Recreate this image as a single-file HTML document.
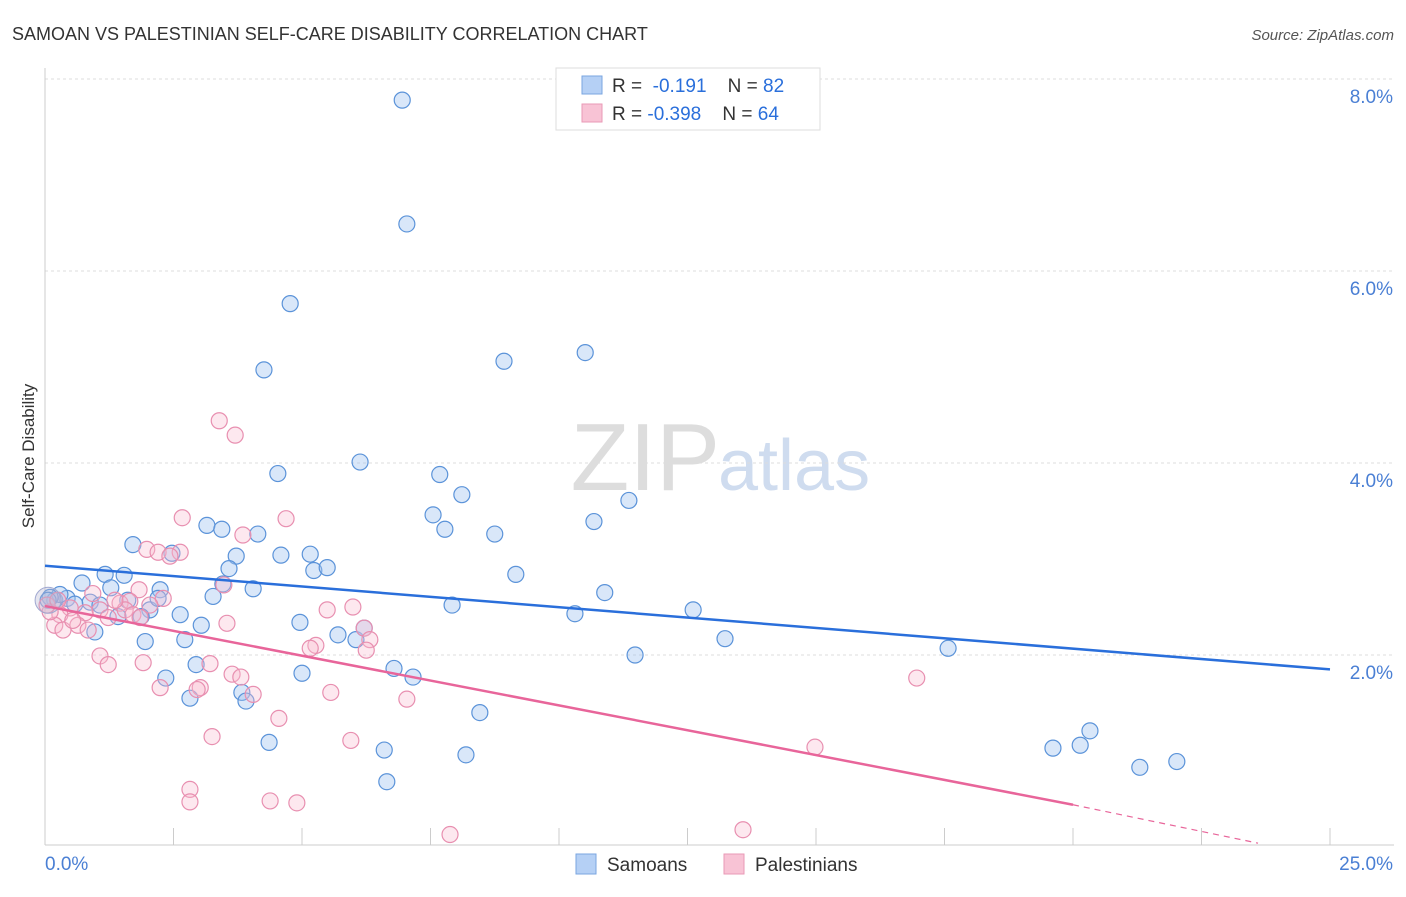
<!DOCTYPE html>
<html><head><meta charset="utf-8"><style>
body{margin:0;background:#fff;font-family:"Liberation Sans",sans-serif;}
svg text{font-family:"Liberation Sans",sans-serif;}
</style></head><body>
<svg id="chart" width="1406" height="892" xmlns="http://www.w3.org/2000/svg">
<text x="12" y="40" font-size="18" fill="#333">SAMOAN VS PALESTINIAN SELF-CARE DISABILITY CORRELATION CHART</text>
<text x="1394" y="40" font-size="15" fill="#555" font-style="italic" text-anchor="end">Source: ZipAtlas.com</text>
<text x="720" y="490" font-size="96" fill="#ddd" text-anchor="end" font-family="Liberation Serif">ZIP</text>
<text x="718" y="490" font-size="72" fill="#cfdcef">atlas</text>
<g id="grid"></g><g id="axes"></g><g id="pts"></g><g id="lines"></g>
<text transform="translate(34,456) rotate(-90)" font-size="17" fill="#333" text-anchor="middle">Self-Care Disability</text>
<g>
<rect x="556" y="68" width="264" height="62" fill="#fff" stroke="#ddd"/>
<rect x="582" y="76" width="20" height="18" fill="#b5d0f5" stroke="#7aa6e0"/>
<text x="612" y="92" font-size="19" fill="#333">R = <tspan fill="#2a6fdb">&#160;-0.191</tspan>&#160;&#160;&#160;&#160;N = <tspan fill="#2a6fdb">82</tspan></text>
<rect x="582" y="104" width="20" height="18" fill="#f8c3d5" stroke="#e99ab6"/>
<text x="612" y="120" font-size="19" fill="#333">R = <tspan fill="#2a6fdb">-0.398</tspan>&#160;&#160;&#160;&#160;N = <tspan fill="#2a6fdb">64</tspan></text>
</g>
<g>
<rect x="576" y="854" width="20" height="20" fill="#b5d0f5" stroke="#7aa6e0"/>
<text x="607" y="871" font-size="19" fill="#333">Samoans</text>
<rect x="724" y="854" width="20" height="20" fill="#f8c3d5" stroke="#e99ab6"/>
<text x="755" y="871" font-size="19" fill="#333">Palestinians</text>
</g>
</svg>
<script>
const yTicks=[2,4,6,8];
const yTickLabels=["2.0%","4.0%","6.0%","8.0%"];
const xTickLabels=["0.0%","25.0%"];
const blueX=[6.95,7.04,4.77,8.93,10.51,4.26,4.53,6.13,7.68,8.11,7.55,7.78,8.75,10.68,11.36,3.15,3.44,4.14,3.72,4.59,5.16,5.23,5.49,1.71,2.47,1.54,1.17,0.72,1.28,2.24,3.27,3.58,4.05,3.46,9.16,7.92,10.89,10.31,12.61,13.23,11.48,17.57,20.33,20.14,19.61,21.30,22.02,4.96,5.70,6.05,6.21,6.79,7.16,5.00,2.94,2.35,2.82,3.83,3.91,8.46,4.36,6.60,8.19,6.65,1.95,2.72,3.04,2.63,2.04,1.42,1.87,0.97,0.88,0.43,0.19,0.29,0.10,0.58,1.07,1.61,2.20,0.06];
const blueY=[7.78,6.49,5.66,5.06,5.15,4.97,3.89,4.01,3.88,3.67,3.46,3.31,3.26,3.39,3.61,3.35,3.31,3.26,3.03,3.04,3.05,2.88,2.91,3.15,3.06,2.83,2.84,2.75,2.70,2.68,2.61,2.90,2.69,2.74,2.84,2.52,2.65,2.43,2.47,2.17,2.00,2.07,1.21,1.06,1.03,0.83,0.89,2.34,2.21,2.16,2.28,1.86,1.77,1.81,1.90,1.76,1.55,1.61,1.52,1.40,1.09,1.01,0.96,0.68,2.14,2.16,2.31,2.42,2.47,2.40,2.40,2.24,2.55,2.59,2.57,2.63,2.60,2.53,2.52,2.57,2.59,2.57];
const pinkX=[3.39,3.70,2.67,4.69,3.85,1.98,2.20,2.63,2.43,3.48,1.83,2.30,0.93,1.46,1.65,2.04,1.56,1.07,0.78,0.49,0.29,0.19,0.35,0.64,1.23,1.71,1.85,3.54,5.49,5.99,6.21,6.32,5.27,5.16,6.25,1.07,1.23,1.91,3.21,3.64,3.81,3.02,2.96,2.24,4.05,5.56,7.04,4.55,3.25,5.95,14.98,16.96,2.82,2.82,4.38,4.90,7.88,13.58,0.10,0.04,0.25,0.54,0.84,1.36];
const pinkY=[4.44,4.29,3.43,3.42,3.25,3.10,3.07,3.07,3.03,2.73,2.68,2.59,2.64,2.54,2.56,2.52,2.47,2.47,2.44,2.49,2.42,2.31,2.26,2.31,2.39,2.42,2.39,2.33,2.47,2.50,2.28,2.16,2.10,2.07,2.05,1.99,1.90,1.92,1.91,1.80,1.77,1.66,1.64,1.66,1.59,1.61,1.54,1.34,1.15,1.11,1.04,1.76,0.60,0.47,0.48,0.46,0.13,0.18,2.45,2.52,2.57,2.36,2.26,2.57];
const blueTrend=[[0,2.93],[25,1.85]];
const pinkTrend=[[0,2.51],[20,0.44]];
const pinkTrendDash=[[20,0.44],[23.6,0.04]];
const X0=45,X1=1330,Y0=847,PY=96;
const sx=v=>X0+(X1-X0)*v/25, sy=v=>Y0-v*PY;
const NS="http://www.w3.org/2000/svg";
function mk(tag,attrs,parent){const e=document.createElementNS(NS,tag);for(const k in attrs)e.setAttribute(k,attrs[k]);document.getElementById(parent).appendChild(e);return e;}
yTicks.forEach((t,i)=>{
 const l=mk('line',{x1:X0,x2:1394,y1:sy(t),y2:sy(t),stroke:'#ddd','stroke-dasharray':'3,3'},'grid');
 
 
 const tx=mk('text',{x:1393,y:sy(t)+24,'font-size':19,fill:'#4a7fd4','text-anchor':'end'},'grid');tx.textContent=yTickLabels[i];
 
 
});
const ax=mk('line',{x1:X0,x2:1394,y1:845,y2:845,stroke:'#ccc'},'axes');


const ay=mk('line',{x1:X0,x2:X0,y1:68,y2:845,stroke:'#ccc'},'axes');


for(let i=1;i<=10;i++){const t=mk('line',{x1:sx(i*2.5),x2:sx(i*2.5),y1:828,y2:845,stroke:'#ccc'},'axes');
 
 }
[[0,'start',X0],[25,'end',1393]].forEach((d,i)=>{const t=mk('text',{x:d[2],y:870,'font-size':19,fill:'#4a7fd4','text-anchor':d[1]},'axes');t.textContent=xTickLabels[i];
 
 });
blueX.forEach((v,i)=>{const c=mk('circle',{cx:sx(v),cy:sy(blueY[i]),r:8,fill:'rgba(160,196,240,0.4)',stroke:'#5b93d9','stroke-width':1.2},'pts');
 
 });
pinkX.forEach((v,i)=>{const c=mk('circle',{cx:sx(v),cy:sy(pinkY[i]),r:8,fill:'rgba(248,190,210,0.35)',stroke:'#e88fb0','stroke-width':1.2},'pts');
 
 });
const big=mk('circle',{cx:sx(blueX[blueX.length-1]),cy:sy(blueY[blueY.length-1]),r:13,fill:'rgba(180,180,210,0.35)',stroke:'#a0a8d0'},'pts');


const bl=mk('line',{x1:sx(blueTrend[0][0]),y1:sy(blueTrend[0][1]),x2:sx(blueTrend[1][0]),y2:sy(blueTrend[1][1]),stroke:'#2a6fdb','stroke-width':2.5},'lines');


const pl=mk('line',{x1:sx(pinkTrend[0][0]),y1:sy(pinkTrend[0][1]),x2:sx(pinkTrend[1][0]),y2:sy(pinkTrend[1][1]),stroke:'#e8659a','stroke-width':2.5},'lines');


const pd=mk('line',{x1:sx(pinkTrendDash[0][0]),y1:sy(pinkTrendDash[0][1]),x2:sx(pinkTrendDash[1][0]),y2:sy(pinkTrendDash[1][1]),stroke:'#e8659a','stroke-width':1.2,'stroke-dasharray':'6,5'},'lines');


</script>
</body></html>
